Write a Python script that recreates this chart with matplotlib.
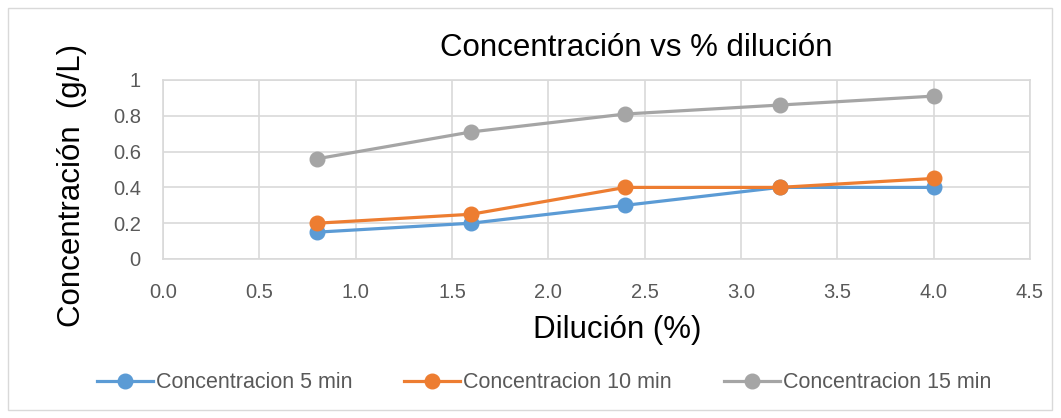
import matplotlib
matplotlib.use("Agg")
import matplotlib.pyplot as plt
from matplotlib.patches import Rectangle

plt.rcParams['font.family'] = ['Liberation Sans', 'DejaVu Sans']

dilucion = [0.8, 1.6, 2.4, 3.2, 4.0]
conc_5 = [0.15, 0.20, 0.30, 0.40, 0.40]
conc_10 = [0.20, 0.25, 0.40, 0.40, 0.45]
conc_15 = [0.56, 0.71, 0.81, 0.86, 0.91]
labels = ["Concentracion 5 min", "Concentracion 10 min", "Concentracion 15 min"]
colors = ["#5B9BD5", "#ED7D31", "#A5A5A5"]

W, H = 1061, 418
fig = plt.figure(figsize=(W/100, H/100), dpi=100)
fig.patches.append(Rectangle((8/W, 8/H), 1044/W, 402/H, transform=fig.transFigure,
                             fill=False, edgecolor="#D9D9D9", linewidth=1))
ax = fig.add_axes([163/W, 1 - 259/H, (1030-163)/W, (259-80)/H])

for y, c, l in zip([conc_5, conc_10, conc_15], colors, labels):
    ax.plot(dilucion, y, color=c, linewidth=2.3, marker='o', markersize=10.5, label=l, zorder=3)

ax.set_xlim(0, 4.5)
ax.set_ylim(0, 1)
ax.set_xticks([i * 0.5 for i in range(10)])
ax.set_xticklabels([f"{i*0.5:.1f}" for i in range(10)])
ax.set_yticks([0, 0.2, 0.4, 0.6, 0.8, 1])
ax.set_yticklabels(["0", "0.2", "0.4", "0.6", "0.8", "1"])
ax.grid(True, color="#D9D9D9", linewidth=1.2)
ax.set_axisbelow(True)
for s in ax.spines.values():
    s.set_color("#D9D9D9")
    s.set_linewidth(1.2)
ax.tick_params(length=0, labelsize=14.5, colors="#595959")
ax.tick_params(axis='y', pad=16)
ax.tick_params(axis='x', pad=17)

fig.text(636/W, 1 - 48/H, "Concentración vs % dilución", fontsize=22.5, ha='center', va='center')
fig.text(617/W, 1 - 330/H, "Dilución (%)", fontsize=22.5, ha='center', va='center')
fig.text(72/W, 1 - 185/H, "Concentración  (g/L)", fontsize=22.5, ha='center', va='center',
         rotation=90)

fig.legend(loc='center', bbox_to_anchor=(544/W, 1 - 383/H), ncol=3, frameon=False,
           prop={'size': 15.5},
           handlelength=2.6, columnspacing=2.4, handletextpad=0.15, labelcolor="#595959")

fig.savefig("out.png", dpi=100)
